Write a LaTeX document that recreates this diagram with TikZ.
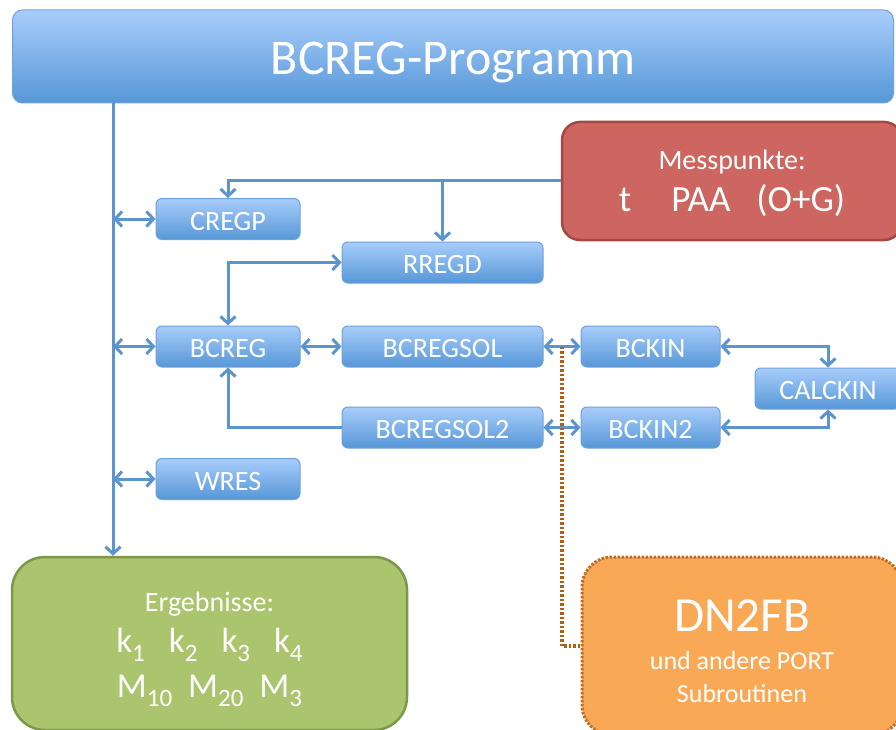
\documentclass[tikz,border=0pt]{standalone}
\usepackage{fontspec}
\setmainfont{Carlito}
\usetikzlibrary{arrows.meta,calc}

\definecolor{boxtop}{RGB}{168,205,251}
\definecolor{boxbottom}{RGB}{86,151,215}
\definecolor{boxedge}{RGB}{112,162,218}
\definecolor{linkblue}{RGB}{92,148,205}
\definecolor{mpfill}{RGB}{205,102,96}
\definecolor{mpedge}{RGB}{163,72,66}
\definecolor{erfill}{RGB}{171,196,110}
\definecolor{eredge}{RGB}{124,152,72}
\definecolor{dnfill}{RGB}{249,168,86}
\definecolor{dnedge}{RGB}{190,110,34}
\definecolor{dotbrown}{RGB}{176,96,20}

\newcommand{\tief}[1]{\raisebox{-9pt}{\fontsize{25}{25}\selectfont #1}}

\begin{document}
\begin{tikzpicture}[x=1pt,y=-1pt,
    routine/.style={draw=boxedge, line width=1pt, rounded corners=6pt,
        top color=boxtop, bottom color=boxbottom, text=white,
        font=\fontsize{28}{30}\selectfont, text height=22pt, text depth=0pt,
        minimum width=144pt, minimum height=41pt, inner sep=0pt},
    wideroutine/.style={routine, minimum width=201pt},
    conn/.style={draw=linkblue, line width=3pt, >={Straight Barb[length=7pt,width=15pt]}},
    dotconn/.style={draw=dotbrown, line width=3.5pt, dash pattern=on 2.5pt off 2pt}]
    \useasboundingbox (0,0) rectangle (896,730);

    \node[draw=boxedge, line width=1pt, rounded corners=10pt, top color=boxtop,
        bottom color=boxbottom, text=white, font=\fontsize{50}{52}\selectfont,
        text height=37pt, text depth=0pt, minimum width=881pt, minimum height=93pt,
        inner sep=0pt] (title) at (453,56.5) {BCREG-Programm};

    \node[draw=mpedge, fill=mpfill, line width=2.5pt, rounded corners=18pt,
        minimum width=340pt, minimum height=118pt, text=white, align=center,
        font=\fontsize{37}{42}\selectfont] (messpunkte) at (732,181)
        {{\fontsize{28}{42}\selectfont\rule{0pt}{25pt}Messpunkte:}\\t\hspace{40pt}PAA\hspace{26pt}(O+G)};

    \node[routine] (cregp) at (228,219) {CREGP};
    \node[wideroutine] (rregd) at (442.5,262.5) {RREGD};
    \node[routine] (bcreg) at (228,346.5) {BCREG};
    \node[wideroutine] (bcregsol) at (442.5,346.5) {BCREGSOL};
    \node[wideroutine] (bcregsoltwo) at (442.5,427.5) {BCREGSOL2};
    \node[routine] (wres) at (228,479) {WRES};
    \node[routine, minimum width=139pt] (bckin) at (650.5,346.5) {BCKIN};
    \node[routine, minimum width=139pt] (bckintwo) at (650.5,427.5) {BCKIN2};
    \node[routine, minimum width=146pt] (calckin) at (828,388.5) {CALCKIN};

    \node[draw=eredge, fill=erfill, line width=2.5pt, rounded corners=33pt,
        minimum width=395pt, minimum height=173pt, text=white, align=center,
        font=\fontsize{35}{41}\selectfont] (ergebnisse) at (209.5,643.5)
        {{\fontsize{28}{41}\selectfont\rule{0pt}{32pt}Ergebnisse:}\\
         k\tief{1}\hspace{24pt}k\tief{2}\hspace{24pt}k\tief{3}\hspace{24pt}k\tief{4}\\[4pt]
         M\tief{10}\hspace{16pt}M\tief{20}\hspace{16pt}M\tief{3}};

    \node[draw=dnedge, fill=dnfill, line width=3pt, dash pattern=on 2.5pt off 1.5pt,
        rounded corners=30pt, minimum width=320pt, minimum height=178pt, text=white,
        align=center, font=\fontsize{26}{33}\selectfont] (dnfb) at (742,646)
        {{\fontsize{49}{33}\selectfont\rule{0pt}{43pt}DN2FB}\\[5pt]und andere PORT\\Subroutinen};

    \coordinate (spine) at (113,0);
    \draw[conn,->] (title.south -| spine) -- (ergebnisse.north -| spine);
    \draw[conn,<->] (cregp.west -| spine) -- (cregp.west);
    \draw[conn,<->] (bcreg.west -| spine) -- (bcreg.west);
    \draw[conn,<->] (wres.west -| spine) -- (wres.west);

    \draw[conn,->] (messpunkte.west) -| (cregp.north);
    \draw[conn,->] (rregd.north |- messpunkte.west) -- (rregd.north);
    \draw[conn,<->] (bcreg.north) |- (rregd.west);
    \draw[conn,->] (bcregsoltwo.west) -| (bcreg.south);

    \draw[conn,<->] (bcreg) -- (bcregsol);
    \draw[conn,<->] (bcregsol) -- (bckin);
    \draw[conn,<->] (bcregsoltwo) -- (bckintwo);
    \draw[conn,<->] (bckin.east) -| (calckin.north);
    \draw[conn,<->] (bckintwo.east) -| (calckin.south);

    \coordinate (dotstart) at ($(bcregsol.east)!0.5!(bckin.west)$);
    \draw[dotconn] (dotstart) |- (dnfb.west);
\end{tikzpicture}
\end{document}
